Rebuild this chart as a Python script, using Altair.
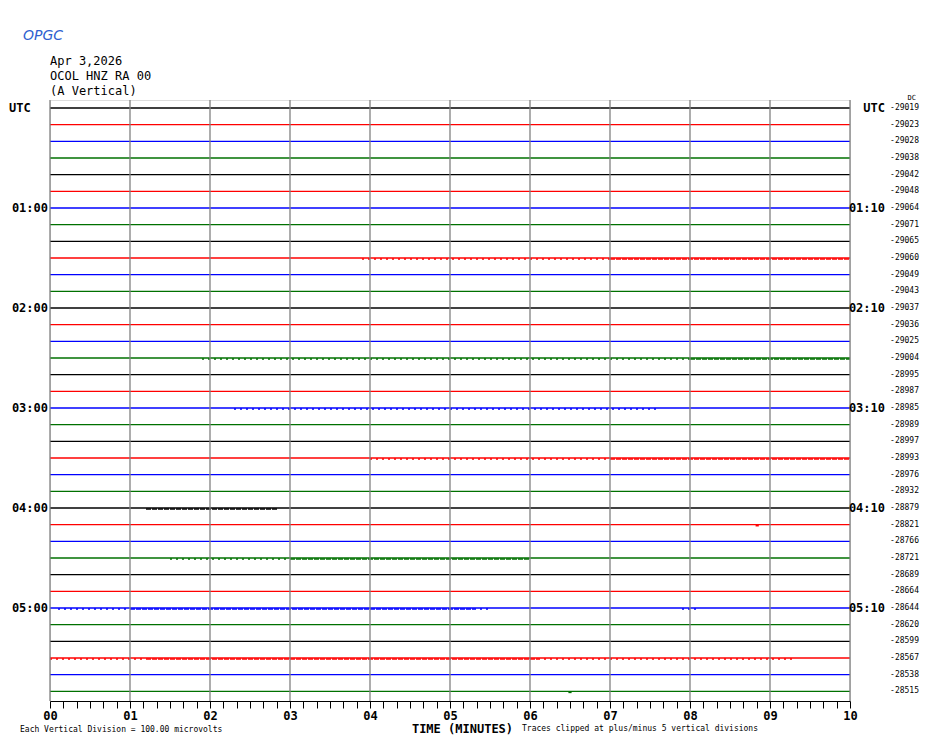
import altair as alt
import pandas as pd

# ---------------- data ----------------
trace_rows = list(range(36))
trace_colors = ["black", "red", "blue", "green"] * 9
dc_offsets = [-29019, -29023, -29028, -29038, -29042, -29048,
              -29064, -29071, -29065, -29060, -29049, -29043,
              -29037, -29036, -29025, -29004, -28995, -28987,
              -28985, -28989, -28997, -28993, -28976, -28932,
              -28879, -28821, -28766, -28721, -28689, -28664,
              -28644, -28620, -28599, -28567, -28538, -28515]
hour_rows = [0, 6, 12, 18, 24, 30]
left_labels = ["UTC", "01:00", "02:00", "03:00", "04:00", "05:00"]
right_labels = ["UTC", "01:10", "02:10", "03:10", "04:10", "05:10"]
minute_lines = list(range(11))
tick_minutes = [i / 6 for i in range(61)]

noise_rows = [9, 9, 15, 15, 18, 21, 21, 24, 25, 27, 27, 30, 30, 30, 30, 33, 33, 33, 35]
noise_start = [3.9, 7.0, 1.9, 8.0, 2.3, 4.0, 7.0, 1.2, 8.82, 1.5, 3.0, 0.1, 1.0, 5.3, 7.9, 0.0, 1.2, 6.1, 6.48]
noise_end = [7.0, 10.0, 8.0, 10.0, 7.6, 7.0, 10.0, 2.85, 8.86, 3.0, 6.0, 1.0, 5.3, 5.5, 8.1, 1.2, 6.1, 9.3, 6.52]
noise_density = ["sparse", "dense", "sparse", "dense", "sparse", "sparse", "dense", "dense", "dense",
                 "sparse", "dense", "sparse", "dense", "sparse", "sparse", "sparse", "dense", "sparse", "dense"]

header_lines = ["Apr 3,2026", "OCOL HNZ RA 00", "(A Vertical)"]
note_left = "Each Vertical Division =  100.00 microvolts"
note_right = "Traces clipped at plus/minus 5 vertical divisions"
axis_title = "TIME (MINUTES)"
logo_text = "OPGC"

# ---------------- tables ----------------
traces = pd.DataFrame({"row": trace_rows, "color": trace_colors, "dc": dc_offsets})
minutes = pd.DataFrame({"minute": minute_lines})
noise = pd.DataFrame({"row": noise_rows, "minute": noise_start, "minute_end": noise_end,
                      "color": [trace_colors[r] for r in noise_rows], "density": noise_density})
hours = pd.DataFrame({"row": hour_rows, "left": left_labels, "right": right_labels})

MONO = "DejaVu Sans Mono"
ROW_PX = 601 / 36.06
MIN_PX = 80.0


def mx(px_from_left):
    return px_from_left / MIN_PX


def ry(px_from_row0):
    return px_from_row0 / ROW_PX


x_scale = alt.Scale(domain=[0, 10], nice=False, zero=False)
y_scale = alt.Scale(domain=[-0.48, 35.58], reverse=True, nice=False, zero=False)

x_enc = alt.X(
    "minute:Q", scale=x_scale,
    axis=alt.Axis(
        values=tick_minutes, tickSize=7, tickColor="black", tickWidth=1,
        domainColor="black", domainWidth=1, grid=False,
        labelExpr="abs(datum.value - round(datum.value)) < 0.01 ? ((round(datum.value) < 10 ? '0' : '') + round(datum.value)) : ''",
        labelOverlap=False, labelFlush=False, labelFont=MONO, labelFontSize=12,
        labelFontWeight="bold", labelColor="black", labelPadding=2,
        title=axis_title, titleFont=MONO, titleFontSize=12, titleFontWeight="bold",
        titleColor="black", titleX=412, titleY=27, titleBaseline="middle", titleAlign="center",
    ),
)
y_enc = alt.Y("row:Q", scale=y_scale, axis=None)
color_enc = alt.Color(
    "color:N",
    scale=alt.Scale(domain=["black", "red", "blue", "green"],
                    range=["#000000", "#ff0000", "#0000ff", "#007000"]),
    legend=None,
)

grid = alt.Chart(minutes).mark_rule(color="#808080", strokeWidth=1.3).encode(x=x_enc)

trace_lines = alt.Chart(traces).mark_rule(strokeWidth=1.4).encode(y=y_enc, color=color_enc)

noise_marks = alt.Chart(noise).mark_rule(strokeWidth=1.6, yOffset=1).encode(
    x=x_enc, x2="minute_end:Q", y=y_enc, color=color_enc,
    strokeDash=alt.StrokeDash("density:N",
                              scale=alt.Scale(domain=["dense", "sparse"], range=[[5, 1], [2, 4]]),
                              legend=None),
)

left_text = alt.Chart(hours[hours["row"] > 0]).mark_text(
    font=MONO, fontSize=12, fontWeight="bold", align="right", baseline="middle", color="black"
).transform_calculate(minute=str(mx(-2))).encode(x=x_enc, y=y_enc, text="left:N")

utc_left = alt.Chart(hours[hours["row"] == 0]).mark_text(
    font=MONO, fontSize=12, fontWeight="bold", align="left", baseline="middle", color="black"
).transform_calculate(minute=str(mx(-41))).encode(x=x_enc, y=y_enc, text="left:N")

right_text = alt.Chart(hours).mark_text(
    font=MONO, fontSize=12, fontWeight="bold", align="right", baseline="middle", color="black"
).transform_calculate(minute=str(10 + mx(35))).encode(x=x_enc, y=y_enc, text="right:N")

dc_text = alt.Chart(traces).mark_text(
    font=MONO, fontSize=8, align="right", baseline="middle", color="black"
).transform_calculate(minute=str(10 + mx(69))).encode(x=x_enc, y=y_enc, text="dc:N")

dc_head = alt.Chart(pd.DataFrame({"label": ["DC"]})).mark_text(
    font=MONO, fontSize=7, align="right", baseline="middle", color="black"
).transform_calculate(minute=str(10 + mx(66)), row=str(ry(-10))).encode(x=x_enc, y=y_enc, text="label:N")

header = pd.DataFrame({
    "label": header_lines,
    "minute": [0.0, 0.0, 0.0],
    "row": [ry(-47), ry(-32), ry(-17)],
})
header_text = alt.Chart(header).mark_text(
    font=MONO, fontSize=12, align="left", baseline="middle", color="black"
).encode(x=x_enc, y=y_enc, text="label:N")

notes = pd.DataFrame({
    "label": [note_left, note_right],
    "minute": [mx(-30), mx(472)],
    "row": [ry(622), ry(621)],
})
notes_text = alt.Chart(notes).mark_text(
    font=MONO, fontSize=8, align="left", baseline="middle", color="black"
).encode(x=x_enc, y=y_enc, text="label:N")

logo = alt.Chart(pd.DataFrame({"label": [logo_text], "minute": [mx(-27)], "row": [ry(-72)]})).mark_text(
    font="DejaVu Sans", fontSize=14, fontStyle="italic", align="left", baseline="middle", color="#2f5fd0"
).encode(x=x_enc, y=y_enc, text="label:N")

chart = alt.layer(
    trace_lines, noise_marks, grid, left_text, utc_left, right_text, dc_text, dc_head,
    header_text, notes_text, logo
).properties(
    width=800, height=601,
    autosize=alt.AutoSizeParams(type="none"),
    padding={"left": 42, "top": 92, "right": 70, "bottom": 34},
).configure_view(stroke="black", strokeWidth=1).configure(background="white")

chart.save("out.html", embed_options={"renderer": "svg", "actions": False})
